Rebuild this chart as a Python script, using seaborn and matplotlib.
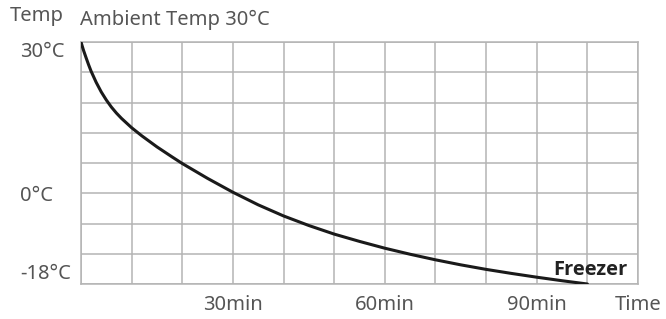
import matplotlib
matplotlib.use("Agg")
import matplotlib.pyplot as plt
import numpy as np
import pandas as pd
import seaborn as sns

# cooling curve (minutes, deg C)
minutes = [0, 0.5, 1, 1.5, 2, 3, 4, 5, 6, 7, 8, 10, 12, 15, 18, 20, 25, 30,
           35, 40, 45, 50, 55, 60, 65, 70, 75, 80, 85, 90, 95, 100]
temps = [30, 28.35, 26.9, 25.5, 24.2, 22.0, 20.1, 18.5, 17.1, 15.9, 14.85,
         13.0, 11.4, 9.2, 7.2, 5.9, 2.95, 0.2, -2.3, -4.5, -6.4, -8.1, -9.55,
         -10.9, -12.1, -13.2, -14.2, -15.1, -15.9, -16.65, -17.35, -18]

x_ticks = [30, 60, 90]
x_labels = ["30min", "60min", "90min"]
y_ticks = [30, 0, -18]
y_labels = ["30°C", "0°C", "-18°C"]

sns.set_style("white")
plt.rcParams['font.family'] = ['Noto Sans', 'DejaVu Sans']

grey = "#555555"
grid_c = "#b4b4b4"
fs = 14.5

fig = plt.figure(figsize=(6.66, 3.19), dpi=100)
ax = fig.add_axes([0.1216, 0.1097, 0.8364, 0.7586])

df = pd.DataFrame({"t": minutes, "T": temps})
sns.lineplot(x="t", y="T", data=df, ax=ax, color="#1a1a1a", lw=2.2, zorder=3)

ax.set_xlim(0, 110)
ax.set_ylim(-18, 30)
ax.set_xticks(np.arange(0, 111, 10), minor=True)
ax.set_yticks(np.arange(-18, 31, 6), minor=True)
ax.set_xticks(x_ticks, x_labels)
ax.set_yticks(y_ticks, y_labels)
ax.grid(which="both", color=grid_c, lw=1.1)
ax.tick_params(which="both", length=0)
ax.tick_params(axis="x", pad=8, labelsize=fs, labelcolor=grey)
ax.tick_params(axis="y", pad=44, labelsize=fs, labelcolor=grey)
for lab in ax.get_yticklabels():
    lab.set_horizontalalignment("left")
    lab.set_fontweight("light")
ax.get_yticklabels()[0].set_verticalalignment("top")
ax.get_yticklabels()[2].set_verticalalignment("bottom")
for lab in ax.get_xticklabels():
    lab.set_fontweight("light")
for s in ax.spines.values():
    s.set_color(grid_c)
    s.set_linewidth(1.1)
ax.set_xlabel("")
ax.set_ylabel("")

ax.annotate("Time", xy=(110, 0), xycoords=("data", "axes fraction"),
            xytext=(0, -8), textcoords="offset points", ha="center", va="top",
            fontsize=fs, color=grey, fontweight="light")
fig.text(10 / 666, 1 - 16 / 319, "Temp", ha="left", va="center",
         fontsize=fs, color=grey, fontweight="light")
fig.text(80 / 666, 1 - 20 / 319, "Ambient Temp 30°C", ha="left", va="center",
         fontsize=fs, color=grey, fontweight="light")
ax.text(108, -15.3, "Freezer", ha="right", va="center", fontsize=fs,
        fontweight="bold", color="#222222", zorder=4,
        family=["Open Sans", "DejaVu Sans"])

fig.savefig("out.png", dpi=100)
